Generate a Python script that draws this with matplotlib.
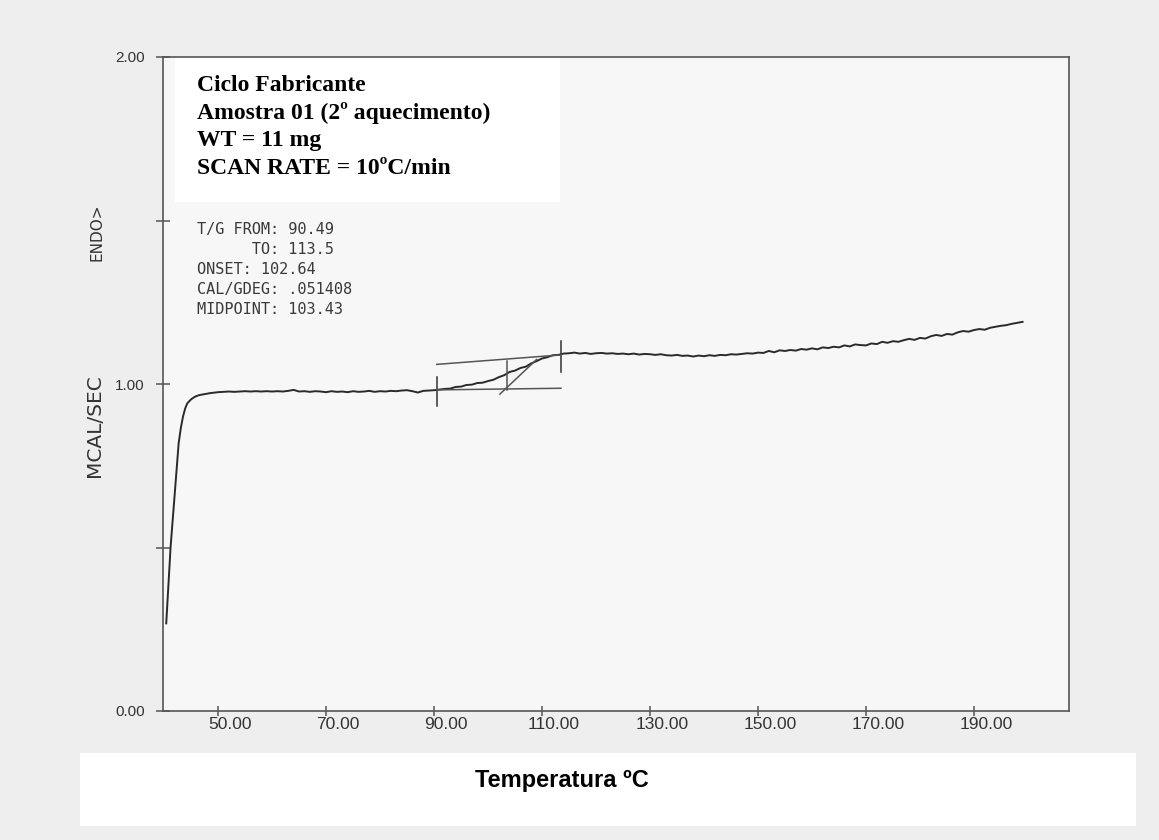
import matplotlib
matplotlib.use("Agg")
import matplotlib.pyplot as plt
from matplotlib.patches import Rectangle
from matplotlib.transforms import ScaledTranslation

# DSC trace: temperature [C] vs heat flow [mcal/s]
temp = [40.4, 40.8, 41.2, 41.6, 42.0, 42.35, 42.7, 43.1, 43.5, 43.9, 44.3, 45.0, 45.7, 46.5, 47.5, 48.5,
        50, 51, 52, 53, 54, 55, 56, 57, 58, 59, 60, 61, 62, 63, 64, 65, 66, 67, 68, 69,
        70, 71, 72, 73, 74, 75, 76, 77, 78, 79, 80, 81, 82, 83, 84, 85, 86, 87, 88, 89,
        90, 91, 92, 93, 94, 95, 96, 97, 98, 99, 100, 101, 102, 103, 104, 105, 106, 107, 108, 109,
        110, 111, 112, 113, 114, 115, 116, 117, 118, 119, 120, 121, 122, 123, 124, 125, 126, 127, 128, 129,
        130, 131, 132, 133, 134, 135, 136, 137, 138, 139, 140, 141, 142, 143, 144, 145, 146, 147, 148, 149,
        150, 151, 152, 153, 154, 155, 156, 157, 158, 159, 160, 161, 162, 163, 164, 165, 166, 167, 168, 169,
        170, 171, 172, 173, 174, 175, 176, 177, 178, 179, 180, 181, 182, 183, 184, 185, 186, 187, 188, 189,
        190, 191, 192, 193, 194, 195, 196, 197, 198, 199]
heat = [0.268, 0.385, 0.500, 0.585, 0.666, 0.745, 0.819, 0.865, 0.900, 0.925, 0.941, 0.953, 0.961, 0.966, 0.969, 0.972,
        0.975, 0.976, 0.977, 0.976, 0.977, 0.978, 0.977, 0.978, 0.977, 0.978, 0.977, 0.978, 0.977, 0.979, 0.982, 0.977, 0.978, 0.976, 0.978, 0.977,
        0.975, 0.978, 0.976, 0.977, 0.975, 0.978, 0.976, 0.977, 0.979, 0.976, 0.978, 0.977, 0.979, 0.978, 0.980, 0.981, 0.978, 0.974, 0.979, 0.980,
        0.981, 0.983, 0.985, 0.986, 0.991, 0.992, 0.997, 0.998, 1.003, 1.004, 1.009, 1.013, 1.021, 1.027, 1.037, 1.041, 1.049, 1.053, 1.063, 1.070,
        1.078, 1.082, 1.088, 1.089, 1.093, 1.094, 1.096, 1.093, 1.095, 1.092, 1.094, 1.095, 1.093, 1.094, 1.092, 1.093, 1.091, 1.093, 1.090, 1.092,
        1.091, 1.089, 1.091, 1.088, 1.087, 1.089, 1.086, 1.087, 1.084, 1.087, 1.085, 1.088, 1.086, 1.089, 1.088, 1.091, 1.090, 1.092, 1.094, 1.093,
        1.096, 1.095, 1.101, 1.097, 1.103, 1.101, 1.104, 1.102, 1.107, 1.105, 1.109, 1.106, 1.112, 1.110, 1.114, 1.112, 1.118, 1.115, 1.121, 1.119,
        1.118, 1.124, 1.122, 1.129, 1.126, 1.131, 1.129, 1.134, 1.138, 1.135, 1.141, 1.139, 1.146, 1.150, 1.147, 1.153, 1.151, 1.158, 1.162, 1.160,
        1.165, 1.168, 1.166, 1.172, 1.175, 1.178, 1.180, 1.184, 1.187, 1.190]

# glass transition construction (T/G from 90.49 to 113.5)
tg_from = 90.49
tg_to = 113.5
midpoint = 103.43
from_mark = [0.933, 1.020]
to_mark = [1.038, 1.131]
lower_line = [0.982, 0.987]
upper_line = [1.060, 1.089]
mid_mark = [0.982, 1.071]
onset_x = [102.2, 109.0]
onset_y = [0.969, 1.075]

x_ticks = [50, 70, 90, 110, 130, 150, 170, 190]
y_ticks = [0.0, 0.5, 1.0, 1.5, 2.0]
y_labels = ["0.00", "", "1.00", "", "2.00"]

header_lines = ["Ciclo Fabricante", "Amostra 01 (2º aquecimento)", "WT = 11 mg", "SCAN RATE = 10ºC/min"]
info_lines = ["T/G FROM: 90.49", "      TO: 113.5", "ONSET: 102.64", "CAL/GDEG: .051408", "MIDPOINT: 103.43"]

W, H = 1159, 840
fig = plt.figure(figsize=(W / 100, H / 100), dpi=100, facecolor="#eeeeee")
ax = fig.add_axes([163 / W, 1 - 711 / H, (1069 - 163) / W, (711 - 57) / H])
ax.set_facecolor("#f7f7f7")

ink = "#333333"
ax.plot(temp, heat, color="#2a2a2a", lw=1.4)

ax.plot([tg_from, tg_from], from_mark, color=ink, lw=1.1)
ax.plot([tg_to, tg_to], to_mark, color=ink, lw=1.1)
ax.plot([tg_from, tg_to], lower_line, color="#555555", lw=1.1)
ax.plot([tg_from, tg_to], upper_line, color="#555555", lw=1.1)
ax.plot([midpoint, midpoint], mid_mark, color="#555555", lw=1.1)
ax.plot(onset_x, onset_y, color="#555555", lw=1.1)

ax.set_xlim(39.8, 207.6)
ax.set_ylim(0, 2)
for s in ax.spines.values():
    s.set_color("#555555")
    s.set_linewidth(1.2)

ax.set_xticks(x_ticks)
ax.set_xticklabels(["%.2f" % v for v in x_ticks], family="Liberation Sans", fontsize=12.5, color=ink)
ax.set_yticks(y_ticks)
ax.set_yticklabels(y_labels, family="Liberation Sans", fontsize=11, color=ink)
ax.tick_params(axis="x", direction="inout", length=7, width=1.1, color="#555555", pad=1)
ax.tick_params(axis="y", direction="inout", length=10, width=1.1, color="#555555", pad=8)
shift = ScaledTranslation(12 / 100, 0, fig.dpi_scale_trans)
for lab in ax.get_xticklabels():
    lab.set_transform(lab.get_transform() + shift)

fig.text(97 / W, 1 - 232 / H, "ENDO>", rotation=90, ha="center", va="center",
         fontsize=11, color=ink)
fig.text(95 / W, 1 - 426 / H, "MCAL/SEC", rotation=90, ha="center", va="center",
         fontsize=14.5, color=ink)

# printout values
for i, line in enumerate(info_lines):
    fig.text(197 / W, 1 - (234 + 20 * i) / H, line, family="DejaVu Sans Mono",
             fontsize=11, color="#3a3a3a", va="baseline")

# white label boxes pasted on the scan
fig.patches.append(Rectangle((175 / W, 1 - 202 / H), 385 / W, 144 / H, transform=fig.transFigure,
                             facecolor="white", edgecolor="none", zorder=5))
for i, line in enumerate(header_lines):
    fig.text(197 / W, 1 - (91 + 27.6 * i) / H, line, family="Liberation Serif", weight="bold",
             fontsize=17, color="black", va="baseline", zorder=6)

fig.patches.append(Rectangle((80 / W, 1 - 826 / H), 1056 / W, 73 / H, transform=fig.transFigure,
                             facecolor="white", edgecolor="none", zorder=5))
fig.text(562 / W, 1 - 787 / H, "Temperatura ºC", family="Liberation Sans", weight="bold",
         fontsize=17, color="black", ha="center", va="baseline", zorder=6)

fig.savefig("out.png", dpi=100, facecolor=fig.get_facecolor())
